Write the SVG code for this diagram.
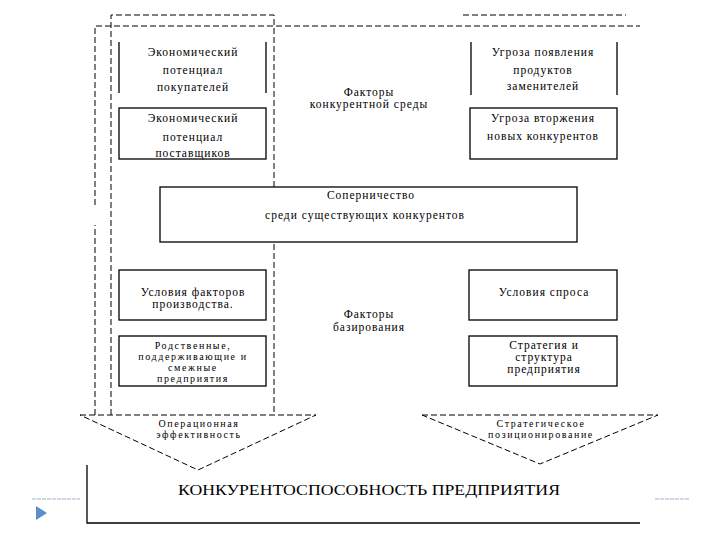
<svg xmlns="http://www.w3.org/2000/svg" width="720" height="540" viewBox="0 0 720 540">
<style>
.bx{fill:#fff;stroke:#000;stroke-width:1.3}
.side{stroke:#000;stroke-width:1.3;fill:none}
.ds{stroke:#000;stroke-width:1;fill:none;stroke-dasharray:6 3}
.t{font-family:"Liberation Serif","Times New Roman",serif;font-size:11.5px;letter-spacing:1px;fill:#000;text-anchor:middle}
.s{font-size:10px;letter-spacing:1.6px}
.big{font-family:"Liberation Serif","Times New Roman",serif;font-size:15px;fill:#000;text-anchor:middle}
</style>
<rect width="720" height="540" fill="#fff"/>
<g id="connectors">
<path class="ds" d="M111 415V15H274V415"/>
<path class="ds" d="M95 415V225M95 205V26H640"/>
<path class="ds" d="M463 15H626"/>
<path class="ds" d="M80 415H316L198 470Z"/>
<path class="ds" d="M422 415H658L540 464Z"/>
<path class="side" d="M87 465V523H640"/>
<path d="M32 499H80M655 499H690" stroke="#9fb3c8" stroke-width="1" stroke-dasharray="4 1"/>
<path d="M36 506L47 513L36 520Z" fill="#5b8fc7"/>
</g>
<g id="n1">
<path class="side" d="M119 42V93M266 42V93"/>
<text class="t" x="193" y="56">Экономический</text>
<text class="t" x="193" y="74">потенциал</text>
<text class="t" x="193" y="91">покупателей</text>
</g>
<g id="n2">
<rect class="bx" x="119" y="108" width="147" height="51"/>
<text class="t" x="193" y="122">Экономический</text>
<text class="t" x="193" y="141">потенциал</text>
<text class="t" x="193" y="157">поставщиков</text>
</g>
<g id="n3">
<path class="side" d="M471 42V95M617 42V95"/>
<text class="t" x="543" y="56">Угроза появления</text>
<text class="t" x="543" y="74">продуктов</text>
<text class="t" x="543" y="90">заменителей</text>
</g>
<g id="n4">
<rect class="bx" x="470" y="108" width="147" height="51"/>
<text class="t" x="543" y="122">Угроза вторжения</text>
<text class="t" x="543" y="140">новых конкурентов</text>
</g>
<g id="lbl1">
<text class="t" x="369" y="96">Факторы</text>
<text class="t" x="369" y="108">конкурентной среды</text>
</g>
<g id="n5">
<rect class="bx" x="160" y="187" width="417" height="55"/>
<text class="t" x="371" y="199">Соперничество</text>
<text class="t" x="365" y="219">среди существующих конкурентов</text>
</g>
<g id="n6">
<rect class="bx" x="119" y="270" width="147" height="50"/>
<text class="t" x="193" y="296">Условия факторов</text>
<text class="t" x="193" y="308">производства.</text>
</g>
<g id="n7">
<rect class="bx" x="119" y="336" width="147" height="50"/>
<text class="t s" x="193" y="349">Родственные,</text>
<text class="t s" x="193" y="360">поддерживающие и</text>
<text class="t s" x="193" y="371">смежные</text>
<text class="t s" x="193" y="382">предприятия</text>
</g>
<g id="n8">
<rect class="bx" x="469" y="270" width="148" height="50"/>
<text class="t" x="544" y="296">Условия спроса</text>
</g>
<g id="n9">
<rect class="bx" x="469" y="336" width="148" height="50"/>
<text class="t" x="544" y="349">Стратегия и</text>
<text class="t" x="544" y="361">структура</text>
<text class="t" x="544" y="373">предприятия</text>
</g>
<g id="lbl2">
<text class="t" x="369" y="318">Факторы</text>
<text class="t" x="369" y="331">базирования</text>
</g>
<g id="n10">
<text class="t s" x="199" y="427">Операционная</text>
<text class="t s" x="199" y="438">эффективность</text>
</g>
<g id="n11">
<text class="t s" x="541" y="427">Стратегическое</text>
<text class="t s" x="541" y="438">позиционирование</text>
</g>
<g id="n12">
<text class="big" x="369" y="495" textLength="382" lengthAdjust="spacingAndGlyphs">КОНКУРЕНТОСПОСОБНОСТЬ ПРЕДПРИЯТИЯ</text>
</g>
</svg>
